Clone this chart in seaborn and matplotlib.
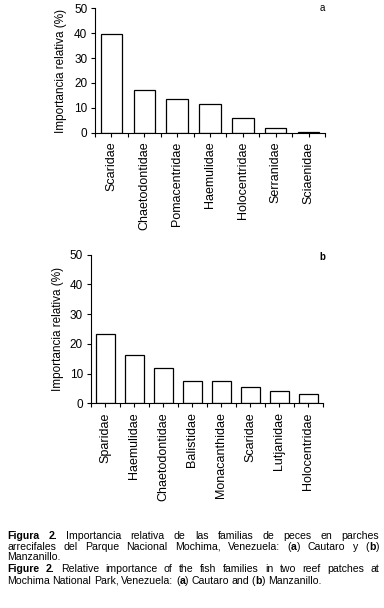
import numpy as np
import pandas as pd
import matplotlib
matplotlib.use('Agg')
import matplotlib.pyplot as plt
import seaborn as sns
from matplotlib import font_manager
from matplotlib.ticker import FixedLocator

# --- datos ---
fam_a = ['Scaridae', 'Chaetodontidae', 'Pomacentridae', 'Haemulidae',
         'Holocentridae', 'Serranidae', 'Sciaenidae']
imp_a = [39.5, 17.0, 13.7, 11.7, 5.8, 1.7, 0.4]

fam_b = ['Sparidae', 'Haemulidae', 'Chaetodontidae', 'Balistidae',
         'Monacanthidae', 'Scaridae', 'Lutjanidae', 'Holocentridae']
imp_b = [23.4, 16.1, 11.8, 7.4, 7.4, 5.4, 4.0, 3.0]

y_ticks = [0, 10, 20, 30, 40, 50]
y_label = 'Importancia relativa (%)'

# texto entre * va en negrita
cap_text = [
    '*Figura 2.* Importancia relativa de las familias de peces en parches',
    'arrecifales del Parque Nacional Mochima, Venezuela: (*a*) Cautaro y (*b*)',
    'Manzanillo.',
    '*Figure 2.* Relative importance of the fish families in two reef patches at',
    'Mochima National Park, Venezuela: (*a*) Cautaro and (*b*) Manzanillo.',
]
cap_justify = [True, True, False, True, False]

# ---------------------------------------------------------
sns.set_style('ticks')
plt.rcParams['font.family'] = ['Liberation Sans', 'DejaVu Sans']
plt.rcParams['axes.edgecolor'] = 'black'
plt.rcParams['xtick.color'] = 'black'
plt.rcParams['ytick.color'] = 'black'
plt.rcParams['text.color'] = 'black'
plt.rcParams['axes.labelcolor'] = 'black'

W, H = 384, 608
fig = plt.figure(figsize=(W / 100, H / 100), dpi=100)
fig.patch.set_facecolor('white')


def panel(rect, fams, vals, tag, tag_weight, tag_xy, label_x):
    ax = fig.add_axes(rect)
    df = pd.DataFrame({'familia': fams, 'imp': vals})
    sns.barplot(data=df, x='familia', y='imp', color='white', edgecolor='black',
                linewidth=0.9, width=0.65, saturation=1, errorbar=None, ax=ax)
    n = len(fams)
    ax.set_xlim(-0.5, n - 0.5)
    ax.set_ylim(0, 50)
    ax.set_yticks(y_ticks)
    ax.xaxis.set_minor_locator(FixedLocator(np.arange(n + 1) - 0.5))
    ax.tick_params(axis='x', which='both', length=3, width=0.8, direction='out',
                   pad=3.5, labelsize=9, labelrotation=90)
    ax.tick_params(axis='y', length=3, width=0.8, direction='out', pad=2.5, labelsize=8.5)
    ax.set_xlabel('')
    ax.set_ylabel(y_label, fontsize=8.5)
    ax.yaxis.set_label_coords(label_x, 0.5)
    sns.despine(ax=ax)
    for s in ['left', 'bottom']:
        ax.spines[s].set_linewidth(0.8)
    ax.text(tag_xy[0], tag_xy[1], tag, transform=ax.transAxes, ha='center',
            va='center', fontsize=7, fontweight=tag_weight)
    return ax


panel([95 / W, 1 - 132.7 / H, 230 / W, 124.4 / H], fam_a, imp_a, 'a', 'normal',
      (0.987, 1.0), -0.12)
panel([90.7 / W, 1 - 403.3 / H, 232 / W, 148.6 / H], fam_b, imp_b, 'b', 'bold',
      (1.0, 0.985), -0.115)

# --- pie de figura justificado ---
names = {f.name for f in font_manager.fontManager.ttflist}
if 'Liberation Sans Narrow' in names:
    cap_font, cap_size = 'Liberation Sans Narrow', 9.1
else:
    cap_font, cap_size = 'Liberation Sans', 7.6

left, right = 7, 379
baselines = [539, 549.8, 560.3, 572.5, 583.5]
renderer = fig.canvas.get_renderer()


def parse(line):
    words = []
    bold = False
    for w in line.split(' '):
        pieces = []
        for k, part in enumerate(w.split('*')):
            if k > 0:
                bold = not bold
            if part:
                pieces.append((part, bold))
        words.append(pieces)
    return words


space_px = 0.25 * cap_size * 100 / 72
for line, just, yb in zip(cap_text, cap_justify, baselines):
    words = parse(line)
    objs = []
    widths = []
    for pieces in words:
        wobj = []
        ww = 0
        for txt, b in pieces:
            t = fig.text(0, 1 - yb / H, txt, family=cap_font, fontsize=cap_size,
                         fontweight='bold' if b else 'normal', va='baseline', ha='left')
            pw = t.get_window_extent(renderer=renderer).width
            wobj.append((t, pw))
            ww += pw
        objs.append(wobj)
        widths.append(ww)
    if just and len(words) > 1:
        gap = (right - left - sum(widths)) / (len(words) - 1)
    else:
        gap = space_px
    x = left
    for wobj, ww in zip(objs, widths):
        xx = x
        for t, pw in wobj:
            t.set_x(xx / W)
            xx += pw
        x += ww + gap

fig.savefig('out.png', dpi=100, facecolor='white')
